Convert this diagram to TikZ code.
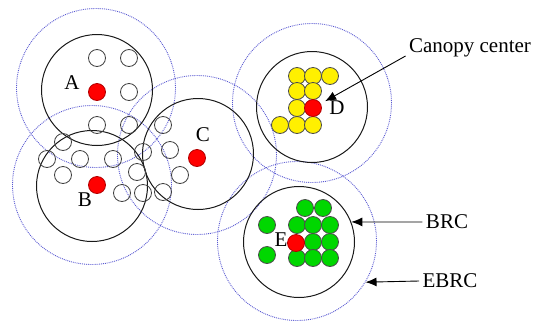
\documentclass[tikz,border=0pt]{standalone}
\usepackage{fontspec}
\setmainfont{Liberation Serif}
\usetikzlibrary{arrows,arrows.meta}
\usetikzlibrary{positioning}
\definecolor{ebrcblue}{RGB}{90,90,210}
\definecolor{dotgreen}{RGB}{0,215,0}
\definecolor{dotyellow}{RGB}{255,240,0}
\begin{document}
\begin{tikzpicture}[x=1pt,y=-1pt,
brc/.style={circle,draw=black!90,line width=1pt,minimum size=111pt,inner sep=0pt},
ebrc/.style={circle,draw=ebrcblue,densely dotted,line width=0.9pt,minimum size=159pt,inner sep=0pt},
pt/.style={circle,draw=black!75,line width=0.8pt,minimum size=17pt,inner sep=0pt},
ctr/.style={pt,fill=red,draw=red!70!black},
ypt/.style={pt,fill=dotyellow,draw=black!70},
gpt/.style={pt,fill=dotgreen,draw=black!70},
lbl/.style={font=\rmfamily\fontsize{21}{24}\selectfont},
tip/.style={-{Latex[length=11pt,width=9pt]},line width=0.9pt}]
\useasboundingbox (0,0) rectangle (535,322);
% extended canopies
\node[ebrc] (ebrcA) at (96,88) {};
\node[ebrc] (ebrcB) at (92,185) {};
\node[ebrc] (ebrcC) at (197,155) {};
\node[ebrc] (ebrcD) at (312,103) {};
\node[ebrc] (ebrcE) at (297,241) {};
% canopies
\node[brc] (brcA) at (97,90) {};
\node[brc] (brcB) at (92,186) {};
\node[brc] (brcC) at (198,154) {};
\node[brc] (brcD) at (312,107) {};
\node[brc] (brcE) at (299,242) {};
% points
\foreach \x/\y [count=\i] in {97/58,129/58,129/92,97/125,129/125,163/125,63/142,47/159,80/159,113/159,
143/152,170/150,63/175,137/172,180/175,122/193,143/193,163/192}
\node[pt] (p\i) at (\x,\y) {};
\foreach \x/\y [count=\i] in {297/76,313/76,330/76,297/91,313/91,297/108,280/125,297/125,313/125}
\node[ypt] (y\i) at (\x,\y) {};
\foreach \x/\y [count=\i] in {305/208,323/208,267/225,297/225,313/225,330/225,313/242,330/242,
267/255,297/258,313/258,330/258}
\node[gpt] (g\i) at (\x,\y) {};
% centers
\node[ctr] (cA) at (97,92) {};
\node[ctr] (cB) at (97,185) {};
\node[ctr] (cC) at (197,158) {};
\node[ctr] (cD) at (313,108) {};
\node[ctr] (cE) at (296,243) {};
\node[lbl] at (72,83) {A};
\node[lbl] at (85,200) {B};
\node[lbl] at (203,135) {C};
\node[lbl] at (337,108) {D};
\node[lbl] at (281,240) {E};
% legend
\node[lbl] (canopy) at (470,48) {Canopy center};
\node[lbl] (brcLbl) at (447,222) {BRC};
\node[lbl] (ebrcLbl) at (450,281) {EBRC};
\draw[tip,shorten >=5pt] ([yshift=-8pt]canopy.west) -- (cD);
\draw[tip] (brcLbl.west) -- (brcE.21);
\draw[tip] (ebrcLbl.west) -- (ebrcE.-31);
\end{tikzpicture}
\end{document}
